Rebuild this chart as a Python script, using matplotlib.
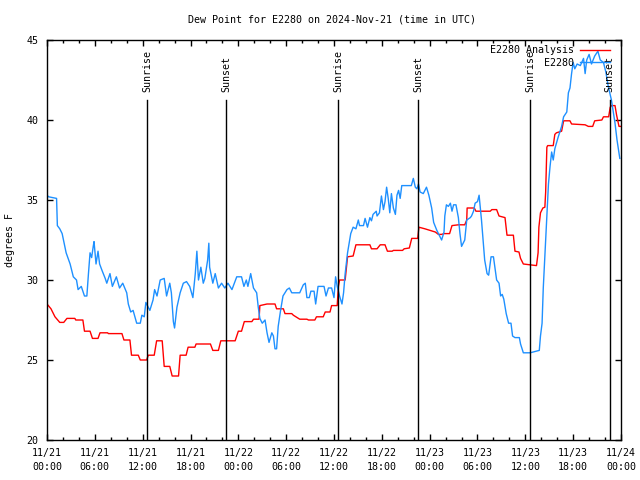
#!/usr/bin/env python3
"""Dew point for E2280, 2024-Nov-21 .. 11/24 (UTC): observations vs analysis."""

import matplotlib

matplotlib.use("Agg")
import matplotlib.pyplot as plt
from matplotlib.ticker import MultipleLocator

TITLE = "Dew Point for E2280 on 2024-Nov-21 (time in UTC)"
Y_LABEL = "degrees F"

# hours since 11/21 00:00 UTC
X_TICK_LABELS = [
    "11/21\n00:00", "11/21\n06:00", "11/21\n12:00", "11/21\n18:00",
    "11/22\n00:00", "11/22\n06:00", "11/22\n12:00", "11/22\n18:00",
    "11/23\n00:00", "11/23\n06:00", "11/23\n12:00", "11/23\n18:00",
    "11/24\n00:00",
]

SUN_HOURS = [12.55, 22.45, 36.5, 46.55, 60.6, 70.6]
SUN_LABELS = ["Sunrise", "Sunset", "Sunrise", "Sunset", "Sunrise", "Sunset"]

# station observations (E2280)
OBS_HOURS = [
    0.0, 0.2, 1.2, 1.3, 1.6, 1.9, 2.4, 2.9, 3.3, 3.7,
    3.9, 4.3, 4.7, 5.0, 5.2, 5.4, 5.6, 5.8, 5.9, 6.15,
    6.4, 6.6, 6.9, 7.3, 7.5, 7.9, 8.2, 8.7, 9.1, 9.5,
    10.0, 10.2, 10.5, 10.8, 11.25, 11.7, 11.9, 12.2, 12.4, 12.9,
    13.3, 13.5, 13.8, 14.2, 14.7, 15.0, 15.4, 15.6, 15.85, 16.0,
    16.3, 16.7, 17.1, 17.5, 17.9, 18.3, 18.6, 18.8, 19.0, 19.3,
    19.6, 19.8, 20.15, 20.3, 20.4, 20.8, 21.1, 21.5, 21.9, 22.3,
    22.7, 23.2, 23.8, 24.4, 24.7, 25.0, 25.2, 25.55, 25.9, 26.3,
    26.5, 26.7, 27.0, 27.35, 27.6, 27.85, 28.2, 28.4, 28.6, 28.8,
    29.0, 29.3, 29.6, 30.1, 30.4, 30.7, 31.7, 32.15, 32.4, 32.6,
    32.9, 33.1, 33.5, 33.7, 34.0, 34.75, 35.0, 35.3, 35.7, 36.0,
    36.2, 36.4, 36.7, 37.0, 37.2, 37.4, 37.7, 37.9, 38.1, 38.4,
    38.75, 39.05, 39.2, 39.7, 39.9, 40.2, 40.5, 40.7, 40.9, 41.3,
    41.4, 41.7, 41.95, 42.2, 42.4, 42.6, 42.8, 43.0, 43.2, 43.45,
    43.7, 43.9, 44.1, 44.3, 44.5, 45.7, 45.95, 46.2, 46.4, 46.6,
    46.8, 47.2, 47.6, 47.9, 48.25, 48.5, 48.9, 49.2, 49.5, 49.8,
    49.9, 50.1, 50.35, 50.6, 50.8, 51.0, 51.3, 51.6, 51.8, 52.0,
    52.2, 52.4, 52.65, 53.1, 53.25, 53.5, 53.7, 54.0, 54.2, 54.3,
    54.5, 54.7, 54.9, 55.2, 55.4, 55.7, 56.0, 56.2, 56.4, 56.7,
    56.9, 57.1, 57.3, 57.6, 57.9, 58.2, 58.4, 58.7, 59.25, 59.4,
    59.75, 60.6, 61.0, 61.75, 61.9, 62.1, 62.25, 62.5, 62.7, 62.9,
    63.1, 63.3, 63.5, 63.7, 64.1, 64.55, 64.8, 65.2, 65.4, 65.6,
    65.8, 66.0, 66.2, 66.5, 66.9, 67.3, 67.5, 67.7, 68.0, 68.3,
    68.7, 69.1, 69.4, 69.8, 70.1, 70.4, 70.8, 71.25, 71.5, 71.85,
]
OBS_DEWPT = [
    35.3, 35.2, 35.1, 33.4, 33.2, 32.9, 31.7, 31.0, 30.2, 30.0,
    29.4, 29.6, 29.0, 29.0, 30.4, 31.7, 31.4, 32.1, 32.4, 31.0,
    31.8, 31.0, 30.6, 30.1, 29.8, 30.4, 29.6, 30.2, 29.5, 29.8,
    29.2, 28.5, 28.0, 28.1, 27.3, 27.3, 27.8, 27.7, 28.6, 28.1,
    28.75, 29.4, 29.0, 30.0, 30.1, 29.0, 29.8, 29.2, 27.4, 27.0,
    28.3, 29.2, 29.8, 29.9, 29.6, 28.9, 30.4, 31.8, 30.0, 30.8,
    29.8, 30.1, 31.25, 32.3, 30.8, 29.8, 30.4, 29.5, 29.8, 29.5,
    29.8, 29.4, 30.2, 30.2, 29.6, 30.0, 29.6, 30.4, 29.5, 29.2,
    28.3, 27.6, 27.3, 27.5, 26.7, 26.1, 26.7, 26.5, 25.7, 25.7,
    27.1, 28.1, 29.0, 29.4, 29.5, 29.2, 29.2, 29.7, 29.8, 28.9,
    28.9, 29.3, 29.3, 28.5, 29.6, 29.6, 29.0, 29.5, 29.5, 28.9,
    30.2, 29.6, 29.0, 28.5, 29.2, 30.4, 31.7, 32.3, 32.9, 33.3,
    33.2, 33.75, 33.4, 33.4, 33.85, 33.3, 33.9, 33.7, 34.1, 34.3,
    34.0, 34.2, 35.25, 34.4, 34.9, 35.8, 35.1, 34.2, 35.4, 34.5,
    34.1, 35.3, 35.6, 35.1, 35.9, 35.9, 36.35, 35.8, 35.7, 36.0,
    35.5, 35.4, 35.8, 35.3, 34.5, 33.6, 33.1, 32.8, 32.5, 33.0,
    34.0, 34.7, 34.6, 34.8, 34.3, 34.7, 34.7, 33.9, 32.9, 32.1,
    32.3, 32.5, 33.75, 33.9, 34.0, 34.3, 34.8, 34.9, 35.3, 34.8,
    33.75, 32.5, 31.25, 30.4, 30.3, 31.45, 31.45, 30.7, 30.0, 29.8,
    29.0, 29.1, 28.8, 27.9, 27.3, 27.3, 26.5, 26.4, 26.4, 26.0,
    25.45, 25.45, 25.5, 25.6, 26.5, 27.3, 29.5, 32.0, 34.0, 36.0,
    37.1, 38.0, 37.5, 38.2, 38.9, 39.6, 40.2, 40.5, 41.7, 42.0,
    42.9, 43.6, 43.2, 43.5, 43.4, 43.85, 42.9, 43.75, 44.1, 43.5,
    44.0, 44.3, 43.75, 43.6, 43.0, 42.1, 41.25, 39.8, 38.75, 37.6,
]

# analysis (E2280 Analysis)
ANL_HOURS = [
    0.0, 0.5, 1.0, 1.6, 2.1, 2.5, 3.5, 3.6, 4.5, 4.7,
    5.4, 5.7, 6.4, 6.65, 7.6, 7.7, 9.4, 9.65, 10.4, 10.6,
    11.45, 11.7, 12.5, 12.7, 13.45, 13.75, 14.45, 14.7, 15.4, 15.7,
    16.5, 16.7, 17.45, 17.7, 18.55, 18.7, 20.5, 20.8, 21.5, 21.8,
    23.6, 24.0, 24.4, 24.75, 25.7, 25.9, 26.6, 26.7, 27.6, 28.6,
    28.8, 29.65, 29.85, 30.7, 30.9, 31.7, 32.6, 32.8, 33.6, 33.8,
    34.65, 34.9, 35.5, 35.7, 36.4, 36.55, 36.7, 37.4, 37.5, 37.7,
    38.4, 38.75, 40.5, 40.7, 41.4, 41.8, 42.4, 42.7, 43.3, 43.45,
    44.6, 44.8, 45.45, 45.75, 46.5, 46.65, 47.4, 48.05, 48.7, 49.1,
    49.5, 49.8, 50.5, 50.8, 51.6, 52.4, 52.65, 52.7, 53.6, 53.8,
    55.6, 55.8, 56.4, 56.7, 57.45, 57.7, 58.5, 58.7, 59.2, 59.4,
    59.75, 60.6, 61.4, 61.6, 61.7, 61.9, 62.2, 62.45, 62.55, 62.7,
    62.8, 63.5, 63.7, 63.9, 64.55, 64.8, 65.6, 65.8, 67.5, 67.9,
    68.45, 68.7, 69.6, 69.8, 70.45, 70.65, 70.8, 71.25, 71.45, 71.75,
    72.0,
]
ANL_DEWPT = [
    28.5, 28.2, 27.7, 27.35, 27.35, 27.6, 27.6, 27.5, 27.5, 26.8,
    26.8, 26.35, 26.35, 26.7, 26.7, 26.65, 26.65, 26.25, 26.25, 25.3,
    25.3, 25.0, 25.0, 25.3, 25.3, 26.2, 26.2, 24.6, 24.6, 24.0,
    24.0, 25.3, 25.3, 25.8, 25.8, 26.0, 26.0, 25.6, 25.6, 26.2,
    26.2, 26.8, 26.8, 27.4, 27.4, 27.55, 27.55, 28.4, 28.5, 28.5,
    28.2, 28.2, 27.9, 27.9, 27.8, 27.55, 27.55, 27.5, 27.5, 27.7,
    27.7, 28.0, 28.0, 28.4, 28.4, 29.6, 30.0, 30.0, 30.5, 31.45,
    31.5, 32.2, 32.2, 31.95, 31.95, 32.2, 32.2, 31.8, 31.8, 31.85,
    31.85, 31.95, 32.0, 32.6, 32.6, 33.3, 33.2, 33.1, 33.0, 32.85,
    32.85, 32.9, 32.9, 33.4, 33.45, 33.45, 33.75, 34.5, 34.5, 34.3,
    34.3, 34.4, 34.4, 34.0, 33.9, 32.8, 32.8, 31.8, 31.75, 31.35,
    31.0, 30.95, 30.9, 31.7, 33.3, 34.2, 34.5, 34.55, 35.5, 38.3,
    38.4, 38.4, 39.1, 39.2, 39.3, 39.95, 39.95, 39.75, 39.7, 39.6,
    39.6, 39.95, 40.0, 40.2, 40.2, 40.8, 40.9, 40.9, 40.3, 39.6,
    39.6,
]

FONT = "DejaVu Sans Mono"
FS = 7.2


def build_plot(path):
    fig = plt.figure(figsize=(6.4, 4.8), dpi=100)
    ax = fig.add_axes([47 / 640, 40 / 480, 574 / 640, 400 / 480])

    ax.plot(ANL_HOURS, ANL_DEWPT, color="#ff0000", lw=1.0, label="E2280 Analysis")
    ax.plot(OBS_HOURS, OBS_DEWPT, color="#1e90ff", lw=1.0, label="E2280")

    # sunrise / sunset markers
    for h, lab in zip(SUN_HOURS, SUN_LABELS):
        ax.plot([h, h], [20, 41.25], color="black", lw=1.0)
        ax.text(h, 41.75, lab, rotation=90, ha="center", va="bottom",
                family=FONT, fontsize=FS)

    ax.set_xlim(0, 72)
    ax.set_ylim(20, 45)
    ax.set_xticks(range(0, 73, 6))
    ax.set_xticklabels(X_TICK_LABELS, family=FONT, fontsize=FS, linespacing=1.4)
    ax.xaxis.set_minor_locator(MultipleLocator(2))
    ax.set_yticks(range(20, 46, 5))
    ax.set_yticklabels([str(v) for v in range(20, 46, 5)], family=FONT, fontsize=FS)
    ax.tick_params(which="both", direction="in", top=True, right=True, width=1.0,
                   color="black")
    ax.tick_params(which="major", length=4, pad=6)
    ax.tick_params(which="minor", length=2.5)
    for s in ax.spines.values():
        s.set_linewidth(1.0)

    fig.text(10 / 640, 1 - 240 / 480, Y_LABEL, rotation=90, ha="center",
             va="center", family=FONT, fontsize=FS)
    fig.text(0.519, 1 - 19 / 480, TITLE, ha="center", va="center",
             family=FONT, fontsize=FS)

    leg = ax.legend(loc="upper right", bbox_to_anchor=(1.0, 1.015), frameon=False,
                    markerfirst=False, prop={"family": FONT, "size": FS},
                    handlelength=3.0, handletextpad=0.6, borderaxespad=0.7,
                    labelspacing=0.25)
    for t in leg.get_texts():
        t.set_ha("right")

    fig.savefig(path, dpi=100)
    plt.close(fig)


def main():
    build_plot("out.png")


if __name__ == "__main__":
    main()
